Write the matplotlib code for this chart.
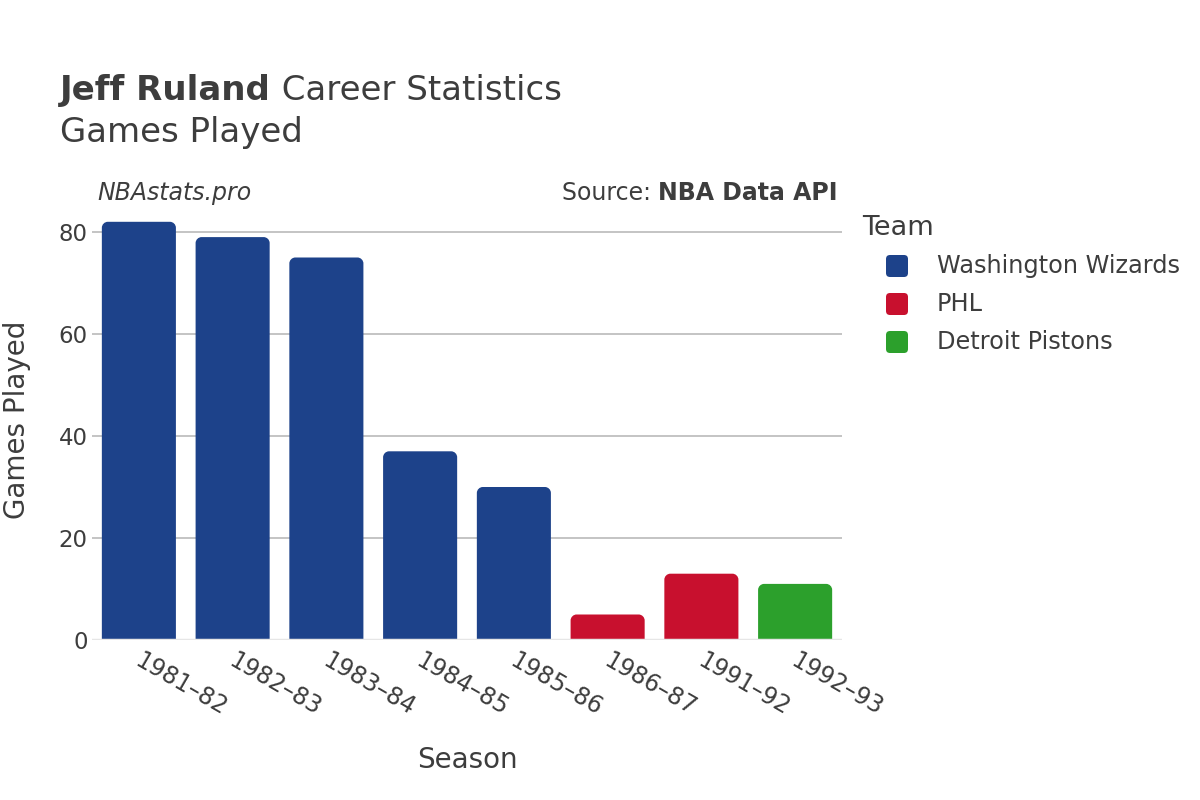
import matplotlib
matplotlib.use("Agg")
import matplotlib.pyplot as plt
from matplotlib.patches import FancyBboxPatch, PathPatch
from matplotlib.path import Path

seasons = ["1981–82", "1982–83", "1983–84", "1984–85", "1985–86", "1986–87", "1991–92", "1992–93"]
games = [82, 79, 75, 37, 30, 5, 13, 11]
teams = ["Washington Wizards", "Washington Wizards", "Washington Wizards", "Washington Wizards",
         "Washington Wizards", "PHL", "PHL", "Detroit Pistons"]
team_names = ["Washington Wizards", "PHL", "Detroit Pistons"]
team_colors = ["#1d428a", "#c8102e", "#2ca02c"]
yticks = [0, 20, 40, 60, 80]

color_of = dict(zip(team_names, team_colors))
TXT = "#3d3d3d"
plt.rcParams['font.family'] = ['DejaVu Sans']

W, H = 1200, 800
fig = plt.figure(figsize=(12, 8), dpi=100)
L, R, B, T = 92, 842, 640, 211.6
ax = fig.add_axes([L / W, 1 - B / H, (R - L) / W, (B - T) / H])
ymax = 84
ax.set_xlim(-0.5, len(seasons) - 0.5)
ax.set_ylim(0, ymax)

for s in ax.spines.values():
    s.set_visible(False)
ax.set_yticks(yticks)
ax.set_yticklabels([str(v) for v in yticks], fontsize=16.5, color=TXT)
ax.tick_params(axis='y', length=0, pad=3)
ax.tick_params(axis='x', length=0)
for v in yticks[1:]:
    ax.axhline(v, color="#b4b4b4", lw=1.1, zorder=0)
ax.axhline(0, color="#e6e6e6", lw=2.5, zorder=3)

# rounded-top bars (single path)
px_x = (R - L) / len(seasons)
px_y = (B - T) / ymax
bw = 0.79
r_px = 6
rx = r_px / px_x
ry = r_px / px_y
k = 0.5523
for i, (g, t) in enumerate(zip(games, teams)):
    c = color_of[t]
    x0, x1 = i - bw / 2, i + bw / 2
    verts = [
        (x0, 0), (x0, g - ry),
        (x0, g - ry + k * ry), (x0 + rx - k * rx, g), (x0 + rx, g),
        (x1 - rx, g),
        (x1 - rx + k * rx, g), (x1, g - ry + k * ry), (x1, g - ry),
        (x1, 0), (x0, 0),
    ]
    codes = [Path.MOVETO, Path.LINETO,
             Path.CURVE4, Path.CURVE4, Path.CURVE4,
             Path.LINETO,
             Path.CURVE4, Path.CURVE4, Path.CURVE4,
             Path.LINETO, Path.CLOSEPOLY]
    ax.add_patch(PathPatch(Path(verts, codes), fc=c, ec="none", zorder=2))

ax.set_xticks(range(len(seasons)))
ax.set_xticklabels([])
for i, s in enumerate(seasons):
    ax.text(i - 0.02, -3.8, s, rotation=-30, rotation_mode='anchor', ha='left', va='center',
            fontsize=17, color=TXT, transform=ax.transData, clip_on=False)

fig.text(467 / W, 1 - 760 / H, "Season", ha='center', va='center', fontsize=20, color=TXT)
fig.text(17 / W, 1 - 420 / H, "Games Played", ha='center', va='center', rotation=90,
         fontsize=20, color=TXT)

# title
renderer = fig.canvas.get_renderer()
t1 = fig.text(60 / W, 1 - 100 / H, "Jeff Ruland", fontsize=24.5, fontweight='bold', color=TXT,
              va='baseline', ha='left')
bb = t1.get_window_extent(renderer)
fig.text(bb.x1 / W, 1 - 100 / H, " Career Statistics", fontsize=24.5, color=TXT,
         va='baseline', ha='left')
fig.text(60 / W, 1 - 142 / H, "Games Played", fontsize=24.5, color=TXT, va='baseline', ha='left')

fig.text(97 / W, 1 - 200 / H, "NBAstats.pro", fontsize=17, style='italic', color=TXT,
         va='baseline', ha='left')
s2 = fig.text(838 / W, 1 - 200 / H, "NBA Data API", fontsize=17, fontweight='bold', color=TXT,
              va='baseline', ha='right')
bb2 = s2.get_window_extent(renderer)
fig.text(bb2.x0 / W, 1 - 200 / H, "Source: ", fontsize=17, color=TXT, va='baseline', ha='right')

# legend
fig.text(862 / W, 1 - 228 / H, "Team", fontsize=19.5, color=TXT, va='center', ha='left')
for j, (n, c) in enumerate(zip(team_names, team_colors)):
    yc = 266 + 38 * j
    m = 22
    fig.patches.append(FancyBboxPatch((886 / W, 1 - (yc + m / 2) / H), m / W, m / H,
                                      boxstyle=f"round,pad=0,rounding_size={4 / W}",
                                      mutation_aspect=W / H, fc=c, ec="none",
                                      transform=fig.transFigure, figure=fig))
    fig.text(937 / W, 1 - yc / H, n, fontsize=17.3, color=TXT, va='center', ha='left')

fig.savefig("out.png", dpi=100, facecolor="white")
